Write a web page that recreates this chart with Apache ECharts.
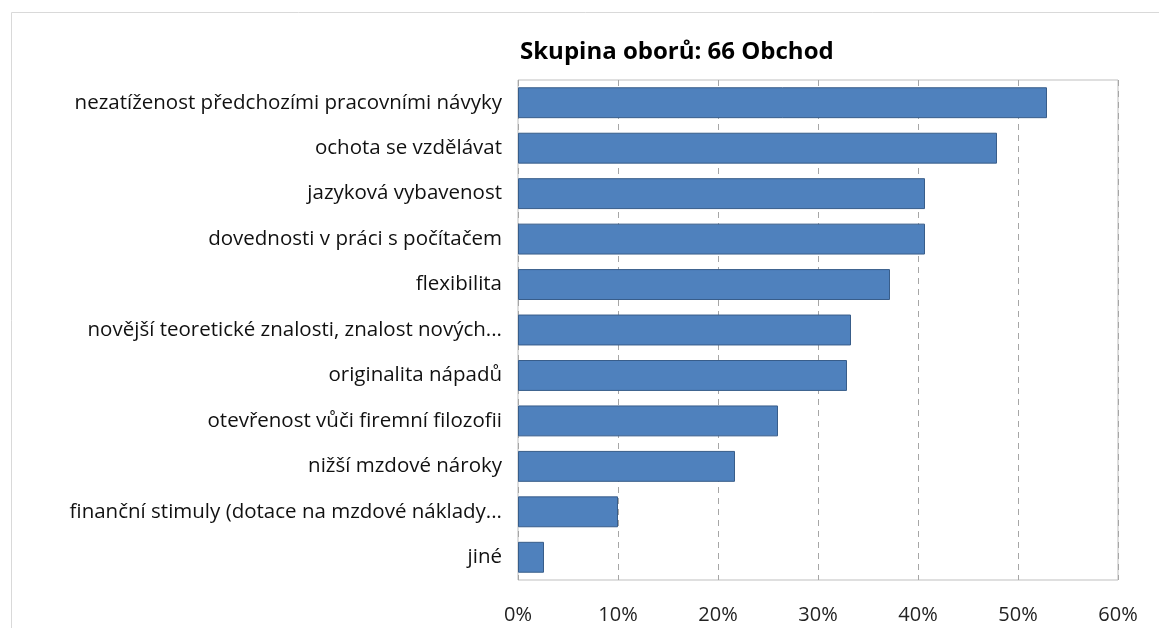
<!DOCTYPE html>
<html>
<head>
<meta charset="utf-8">
<script src="https://cdn.jsdelivr.net/npm/echarts@6/dist/echarts.min.js"></script>
<style>
    html, body {margin: 0; padding: 0; background: #fff;}
    #chart {width: 1159px; height: 628px;}
</style>
</head>
<body>
<div id="chart"></div>
<script>
    var categories = [
        'nezatíženost předchozími pracovními návyky',
        'ochota se vzdělávat',
        'jazyková vybavenost',
        'dovednosti v práci s počítačem',
        'flexibilita',
        'novější teoretické znalosti, znalost nových...',
        'originalita nápadů',
        'otevřenost vůči firemní filozofii',
        'nižší mzdové nároky',
        'finanční stimuly (dotace na mzdové náklady...',
        'jiné'
    ];
    var values = [52.9, 47.9, 40.7, 40.7, 37.2, 33.3, 32.9, 26.0, 21.7, 10.0, 2.6];
    var xTicks = [0, 10, 20, 30, 40, 50, 60];

    var chart = echarts.init(document.getElementById('chart'));
    chart.setOption({
        animation: false,
        title: {
            text: 'Skupina oborů: 66 Obchod',
            left: 515,
            top: 35,
            textStyle: {fontFamily: 'Open Sans', fontWeight: 'bold', fontSize: 24, color: '#000'}
        },
        graphic: [{
            type: 'rect',
            left: 9,
            top: 10,
            shape: {width: 1300, height: 800},
            style: {fill: 'none', stroke: '#d9d9d9', lineWidth: 1},
            silent: true
        }],
        grid: {
            left: 518,
            right: 41,
            top: 80,
            bottom: 48,
            show: true,
            borderColor: '#bfbfbf',
            borderWidth: 1
        },
        xAxis: {
            type: 'value',
            min: xTicks[0],
            max: xTicks[xTicks.length - 1],
            interval: 10,
            axisLine: {show: false},
            axisTick: {show: false},
            axisLabel: {
                formatter: '{value}%',
                fontFamily: 'Open Sans',
                fontSize: 20,
                color: '#222',
                margin: 25
            },
            splitLine: {lineStyle: {color: '#a6a6a6', type: [6, 5], width: 1}}
        },
        yAxis: {
            type: 'category',
            inverse: true,
            data: categories,
            axisLine: {show: false},
            axisTick: {show: false},
            axisLabel: {
                fontFamily: 'Open Sans',
                fontSize: 20.5,
                color: '#111',
                margin: 16
            }
        },
        series: [{
            type: 'bar',
            data: values,
            barCategoryGap: '32%',
            itemStyle: {color: '#4f81bd', borderColor: '#385d8a', borderWidth: 1}
        }]
    });
</script>
</body>
</html>
